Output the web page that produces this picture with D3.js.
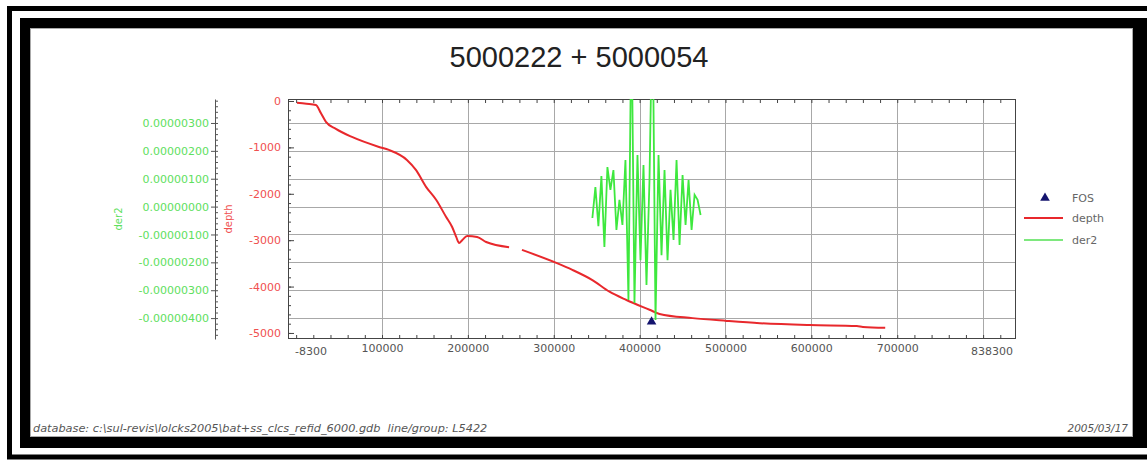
<!DOCTYPE html>
<html>
<head>
<meta charset="utf-8">
<script src="https://cdn.jsdelivr.net/npm/d3@7"></script>
<style>
  body { margin: 0; background: #fff; }
</style>
</head>
<body>
<svg id="chart" width="1147" height="461"></svg>
<script>
const title = '5000222 + 5000054'
const footerLeft = 'database: c:\\sul-revis\\lolcks2005\\bat+ss_clcs_refid_6000.gdb  line/group: L5422'
const footerRight = '2005/03/17'

// x axis: ends and labelled ticks
const xEnds = [-8300, 838300]
const xLabelTicks = [100000, 200000, 300000, 400000, 500000, 600000, 700000]
const xGridTicks = [100000, 200000, 300000, 400000, 500000, 600000, 700000, 800000]
const depthTicks = [0, -1000, -2000, -3000, -4000, -5000]
const der2Ticks = [3e-6, 2e-6, 1e-6, 0, -1e-6, -2e-6, -3e-6, -4e-6]

// depth profile (null = gap in the line)
const depthX = [1000, 12000, 23000, 28800, 34700, 46300, 65000, 96500, 108000, 129000,
  139700, 151300, 163000, 174700, 181700, 186400, 189800, 193300, 199200, 210800,
  221300, 248000, 255000, 263000, 303000, 321700, 345000, 364900, 384700, 411500,
  423200, 461700, 501400, 540000, 598000, 653000, 660000, 686000]
const depthY = [-40, -60, -86, -259, -450, -600, -775, -990, -1055, -1270,
  -1490, -1850, -2130, -2500, -2715, -2930, -3060, -3000, -2910, -2930,
  -3040, -3150, null, -3210, -3490, -3640, -3860, -4110, -4290, -4500,
  -4590, -4680, -4740, -4790, -4830, -4850, -4870, -4890]

// second derivative
const der2X = [345000, 348500, 352000, 355500, 359000, 362500, 366000, 369500, 373000, 376500,
  380000, 383500, 387000, 390500, 394000, 397500, 401000, 404500, 408000, 411500,
  415000, 418500, 422000, 425500, 429000, 432500, 436000, 439500, 443000, 446500,
  450000, 453500, 457000, 460500, 464000, 467500, 471000]
const der2Y = [-0.41e-6, 0.70e-6, -0.70e-6, 1.10e-6, -1.45e-6, 1.42e-6, 0.60e-6, 1.31e-6, -0.84e-6, 0.24e-6,
  -0.66e-6, 1.67e-6, -3.35e-6, 7.0e-6, -3.46e-6, 1.85e-6, -1.92e-6, 1.49e-6, -2.81e-6, 0.95e-6,
  7.5e-6, -4.07e-6, 1.85e-6, -1.74e-6, 1.31e-6, -1.92e-6, 0.60e-6, -1.20e-6, 1.67e-6, -1.38e-6,
  1.13e-6, -0.66e-6, 0.95e-6, -0.84e-6, 0.42e-6, 0.24e-6, -0.30e-6]

const fosX = [413900]
const fosY = [-4760]

const RED = '#e8282c', GREEN = '#3ee83e', NAVY = '#14146e'
const RED_TXT = '#f05050', GREEN_TXT = '#5ee05e'
const FONT = '"DejaVu Sans", Verdana, sans-serif'
const svg = d3.select('#chart').attr('font-family', FONT)

// frames
svg.append('rect').attr('x', 20).attr('y', 18).attr('width', 1140).attr('height', 430).attr('fill', '#000')
svg.append('rect').attr('x', 9.5).attr('y', 8.5).attr('width', 1150).attr('height', 448.5)
  .attr('fill', 'none').attr('stroke', '#000').attr('stroke-width', 5)
svg.append('rect').attr('x', 30.5).attr('y', 28.5).attr('width', 1102).attr('height', 408)
  .attr('fill', '#fff').attr('stroke', '#aaa')

const L = 288, R = 1016, T = 99, B = 339

const x = d3.scaleLinear().domain(xEnds).range([L + 1, R])
const yDepth = d3.scaleLinear().domain([-5130, 43]).range([B, T])
const yDer2 = d3.scaleLinear().domain([-4.75e-6, 3.86e-6]).range([B, T])

const hyphen = v => String(v)
const fmtDer2 = v => (v < 0 ? '-' : '') + Math.abs(v).toFixed(8)

svg.append('text').attr('x', 579).attr('y', 67).attr('text-anchor', 'middle')
  .attr('font-family', 'Arial, "Liberation Sans", sans-serif')
  .attr('font-size', 29).attr('fill', '#222').text(title)

svg.append('clipPath').attr('id', 'clip').append('rect')
  .attr('x', L).attr('y', T).attr('width', R - L).attr('height', B - T)

// grid
const grid = svg.append('g').attr('stroke', '#a8a8a8').attr('stroke-width', 1)
grid.selectAll('.v').data(xGridTicks).join('line')
  .attr('x1', d => Math.round(x(d)) + 0.5).attr('x2', d => Math.round(x(d)) + 0.5)
  .attr('y1', T).attr('y2', B)
grid.selectAll('.h').data(der2Ticks).join('line')
  .attr('y1', d => Math.round(yDer2(d)) + 0.5).attr('y2', d => Math.round(yDer2(d)) + 0.5)
  .attr('x1', L).attr('x2', R)

// minor ticks on x, top and bottom
const xMinor = d3.range(0, 840000, 20000)
svg.append('g').attr('transform', `translate(0,${B})`)
  .call(d3.axisBottom(x).tickValues(xMinor).tickSize(-4).tickFormat(''))
  .call(g => g.select('.domain').remove())
  .selectAll('line').attr('stroke', '#444')
svg.append('g').attr('transform', `translate(0,${T})`)
  .call(d3.axisTop(x).tickValues(xMinor).tickSize(-4).tickFormat(''))
  .call(g => g.select('.domain').remove())
  .selectAll('line').attr('stroke', '#444')

// x labels
const xAxis = svg.append('g').attr('transform', `translate(0,${B})`)
  .call(d3.axisBottom(x).tickValues(xLabelTicks).tickSize(0).tickPadding(5).tickFormat(hyphen))
xAxis.select('.domain').remove()
xAxis.attr('font-family', FONT).attr('font-size', 11)
xAxis.selectAll('text').attr('fill', '#555')
svg.append('text').attr('x', x(xEnds[0]) + 6).attr('y', B + 16).attr('font-size', 11).attr('fill', '#555').text(hyphen(xEnds[0]))
svg.append('text').attr('x', x(xEnds[1]) - 3).attr('y', B + 16).attr('text-anchor', 'end').attr('font-size', 11).attr('fill', '#555').text(hyphen(xEnds[1]))

// depth axis
const depthMinor = d3.range(0, -5200, -200)
svg.append('g').attr('transform', `translate(${L},0)`)
  .call(d3.axisLeft(yDepth).tickValues(depthMinor).tickSize(-3).tickFormat(''))
  .call(g => g.select('.domain').remove())
  .selectAll('line').attr('stroke', '#444')
const dAxis = svg.append('g').attr('transform', `translate(${L},0)`)
  .call(d3.axisLeft(yDepth).tickValues(depthTicks).tickSize(-6).tickPadding(7).tickFormat(hyphen))
dAxis.select('.domain').remove()
dAxis.attr('font-family', FONT).attr('font-size', 11)
dAxis.selectAll('line').attr('stroke', '#444')
dAxis.selectAll('text').attr('fill', RED_TXT)

// der2 axis
const DX = 215
const der2Minor = d3.range(-4.6e-6, 3.9e-6, 0.2e-6)
svg.append('g').attr('transform', `translate(${DX},0)`)
  .call(d3.axisRight(yDer2).tickValues(der2Minor).tickSize(3).tickFormat(''))
  .call(g => g.select('.domain').remove())
  .selectAll('line').attr('stroke', '#555')
const gAxis = svg.append('g').attr('transform', `translate(${DX},0)`)
  .call(d3.axisLeft(yDer2).tickValues(der2Ticks).tickSize(4).tickSizeOuter(0).tickPadding(2).tickFormat(fmtDer2))
gAxis.attr('font-family', FONT).attr('font-size', 11)
gAxis.select('.domain').attr('stroke', '#555')
gAxis.selectAll('line').attr('stroke', '#555')
gAxis.selectAll('text').attr('fill', GREEN_TXT)

svg.append('text').attr('transform', 'translate(122,219) rotate(-90)').attr('text-anchor', 'middle')
  .attr('font-size', 10).attr('fill', GREEN_TXT).text('der2')
svg.append('text').attr('transform', 'translate(232,219) rotate(-90)').attr('text-anchor', 'middle')
  .attr('font-size', 10).attr('fill', RED_TXT).text('depth')

// plot frame
svg.append('rect').attr('x', L + 0.5).attr('y', T + 0.5).attr('width', R - L - 1).attr('height', B - T - 1)
  .attr('fill', 'none').attr('stroke', '#444')

// series
const plot = svg.append('g').attr('clip-path', 'url(#clip)')
const depthPts = depthX.map((v, i) => [v, depthY[i]])
plot.append('path').datum(depthPts)
  .attr('fill', 'none').attr('stroke', RED).attr('stroke-width', 2)
  .attr('d', d3.line().defined(d => d[1] !== null).curve(d3.curveMonotoneX)
    .x(d => x(d[0])).y(d => yDepth(d[1])))

const der2Pts = der2X.map((v, i) => [v, der2Y[i]])
plot.append('path').datum(der2Pts)
  .attr('fill', 'none').attr('stroke', GREEN).attr('stroke-width', 1.8)
  .attr('d', d3.line().x(d => x(d[0])).y(d => yDer2(d[1])))

svg.selectAll('.fos').data(fosX.map((v, i) => [v, fosY[i]])).join('path')
  .attr('transform', d => `translate(${x(d[0])},${yDepth(d[1])})`)
  .attr('d', d3.symbol(d3.symbolTriangle, 40)).attr('fill', NAVY)

// legend
const lg = svg.append('g').attr('transform', 'translate(1024,0)')
lg.append('path').attr('transform', 'translate(21,198)').attr('d', d3.symbol(d3.symbolTriangle, 40)).attr('fill', NAVY)
lg.append('line').attr('x1', 0).attr('x2', 39).attr('y1', 218).attr('y2', 218).attr('stroke', RED).attr('stroke-width', 2)
lg.append('line').attr('x1', 0).attr('x2', 39).attr('y1', 240).attr('y2', 240).attr('stroke', '#7ee87e').attr('stroke-width', 2)
const lgText = ['FOS', 'depth', 'der2']
lg.selectAll('.lt').data(lgText).join('text')
  .attr('x', 48).attr('y', (d, i) => [202, 222, 244][i])
  .attr('font-size', 11).attr('fill', '#666').text(d => d)

// footer
svg.append('text').attr('x', 33).attr('y', 432).attr('font-size', 11.3).attr('font-style', 'italic')
  .style('white-space', 'pre').attr('fill', '#555').text(footerLeft)
svg.append('text').attr('x', 1128).attr('y', 432).attr('text-anchor', 'end').attr('font-size', 10.5).attr('font-style', 'italic')
  .attr('fill', '#555').text(footerRight)
</script>
</body>
</html>
